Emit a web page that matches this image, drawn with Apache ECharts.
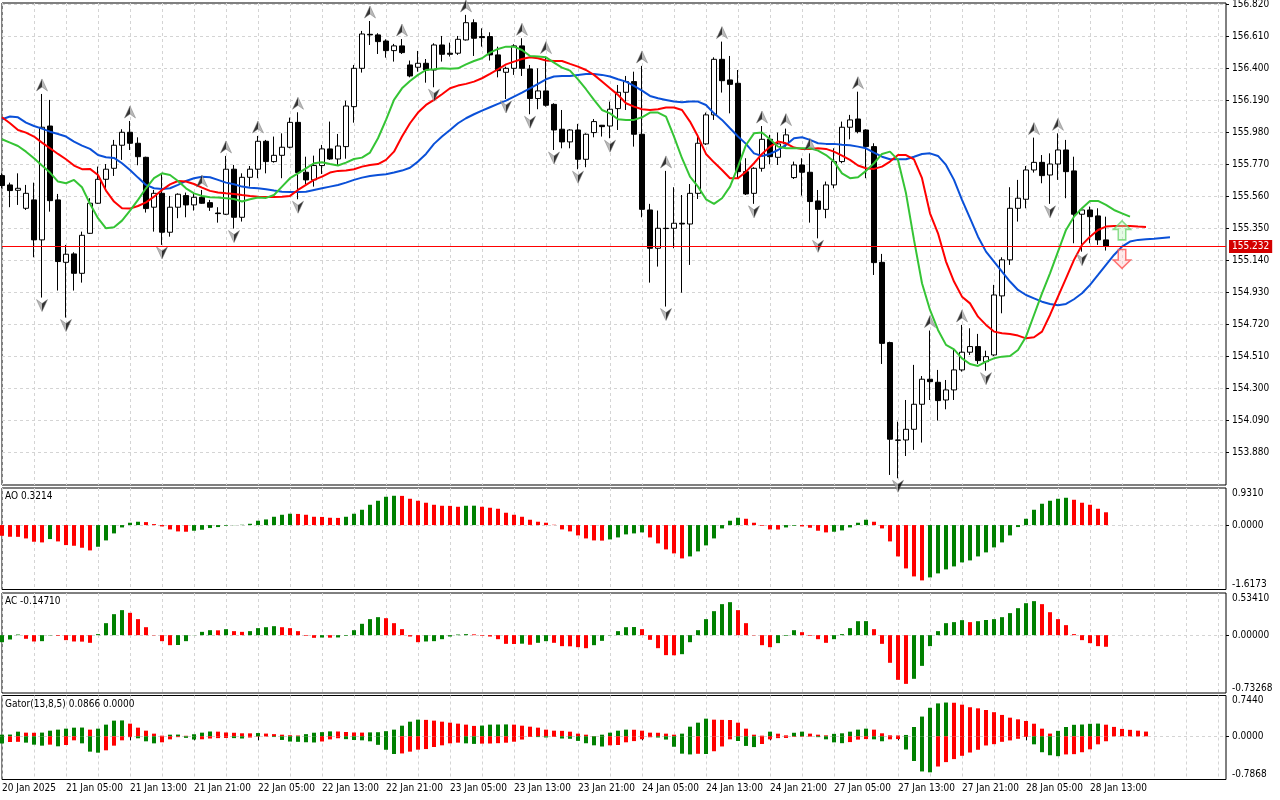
<!DOCTYPE html>
<html>
<head>
<meta charset="utf-8">
<script src="https://cdn.jsdelivr.net/npm/echarts@6/dist/echarts.min.js"></script>
<style>
  html, body { margin: 0; padding: 0; background: #fff; }
  #chart { width: 1280px; height: 800px; }
</style>
</head>
<body>
<div id="chart"></div>
<script>
// H1 candles, [open, close, low, high]
const candles = [
  [155.695,155.630,155.612,155.710],[155.634,155.597,155.488,155.649],[155.599,155.612,155.503,155.710],[155.481,155.579,155.470,155.634],
  [155.536,155.274,155.160,155.649],[155.274,156.012,154.896,156.230],[156.020,155.531,155.459,156.191],[155.536,155.132,154.942,155.575],
  [155.127,155.180,154.765,155.241],[155.182,155.055,154.942,155.193],[155.055,155.304,154.994,155.328],[155.317,155.514,155.313,155.547],
  [155.514,155.671,155.510,155.754],[155.671,155.737,155.601,155.771],[155.743,155.894,155.693,155.929],[155.894,155.979,155.798,155.999],
  [155.979,155.907,155.863,156.053],[155.907,155.819,155.763,155.946],[155.815,155.479,155.453,155.819],[155.488,155.579,155.328,155.601],
  [155.579,155.324,155.241,155.710],[155.324,155.488,155.295,155.562],[155.488,155.573,155.416,155.579],[155.564,155.503,155.422,155.584],
  [155.503,155.553,155.466,155.579],[155.553,155.514,155.510,155.601],[155.518,155.488,155.464,155.536],[155.450,155.446,155.387,155.488],
  [155.442,155.737,155.437,155.824],[155.737,155.422,155.348,155.765],[155.422,155.684,155.394,155.710],[155.684,155.737,155.623,155.758],
  [155.737,155.920,155.678,155.955],[155.920,155.787,155.710,155.929],[155.787,155.828,155.780,155.951],[155.828,155.881,155.678,155.972],
  [155.881,156.044,155.874,156.075],[156.044,155.715,155.540,156.110],[155.717,155.667,155.640,155.819],[155.667,155.761,155.623,155.826],
  [155.761,155.870,155.706,155.896],[155.870,155.804,155.798,156.049],[155.804,155.889,155.761,155.968],[155.885,156.151,155.806,156.186],
  [156.147,156.398,156.042,156.420],[156.398,156.623,156.370,156.643],[156.621,156.617,156.551,156.708],[156.617,156.573,156.492,156.628],
  [156.577,156.514,156.468,156.588],[156.514,156.545,156.442,156.558],[156.545,156.501,156.492,156.590],[156.420,156.348,156.339,156.449],
  [156.405,156.431,156.376,156.512],[156.431,156.387,156.304,156.459],[156.387,156.551,156.274,156.562],[156.551,156.490,156.442,156.610],
  [156.497,156.490,156.475,156.566],[156.497,156.588,156.486,156.610],[156.584,156.697,156.580,156.748],[156.697,156.595,156.479,156.719],
  [156.606,156.599,156.540,156.660],[156.606,156.486,156.449,156.634],[156.486,156.383,156.339,156.540],[156.372,156.398,156.197,156.409],
  [156.398,156.545,156.355,156.556],[156.545,156.398,156.348,156.595],[156.394,156.200,156.097,156.420],[156.200,156.250,156.130,156.398],
  [156.250,156.156,156.147,156.475],[156.162,155.994,155.863,156.169],[155.999,155.916,155.874,156.125],[155.916,155.994,155.874,155.999],
  [155.994,155.802,155.737,156.034],[155.802,155.966,155.750,155.972],[155.977,156.049,155.946,156.066],[156.025,156.016,155.951,156.027],
  [156.020,156.130,155.940,156.180],[156.134,156.241,155.994,156.289],[156.241,156.311,156.125,156.348],[156.311,155.966,155.885,156.376],
  [155.966,155.474,155.422,156.414],[155.470,155.219,154.994,155.510],[155.219,155.350,155.099,155.466],[155.350,155.348,154.837,155.726],
  [155.350,155.383,155.219,155.619],[155.383,155.378,154.928,155.568],[155.378,155.579,155.110,155.640],[155.579,155.907,155.542,155.962],
  [155.903,156.093,155.896,156.108],[156.093,156.457,156.060,156.470],[156.457,156.317,156.239,156.573],[156.322,156.293,156.103,156.479],
  [156.300,155.721,155.678,156.387],[155.721,155.575,155.568,155.809],[155.579,155.743,155.510,155.750],[155.743,155.933,155.721,156.020],
  [155.933,155.819,155.769,155.962],[155.815,155.903,155.765,155.977],[155.903,155.962,155.885,156.003],[155.682,155.765,155.673,155.787],
  [155.765,155.717,155.564,155.809],[155.717,155.525,155.387,155.841],[155.529,155.474,155.284,155.601],[155.474,155.634,155.416,155.656],
  [155.634,155.787,155.612,155.874],[155.787,156.012,155.776,156.049],[156.012,156.060,155.933,156.093],[156.066,155.983,155.972,156.245],
  [155.994,155.885,155.678,155.999],[155.885,155.125,155.044,155.907],[155.127,154.596,154.461,155.182],[154.601,153.968,153.734,154.607],
  [153.963,153.961,153.712,154.083],[153.963,154.033,153.858,154.225],[154.033,154.197,153.898,154.455],[154.197,154.361,153.946,154.382],
  [154.361,154.345,154.225,154.680],[154.341,154.221,154.090,154.422],[154.225,154.291,154.164,154.356],[154.291,154.422,154.225,154.553],
  [154.422,154.538,154.411,154.717],[154.538,154.575,154.520,154.695],[154.575,154.483,154.461,154.658],[154.476,154.509,154.417,154.548],
  [154.520,154.913,154.513,154.979],[154.907,155.143,154.793,155.160],[155.143,155.481,155.110,155.619],[155.481,155.547,155.394,155.667],
  [155.540,155.732,155.481,155.758],[155.732,155.782,155.715,155.944],[155.782,155.695,155.645,155.830],[155.699,155.771,155.510,155.841],
  [155.771,155.863,155.667,155.972],[155.863,155.721,155.547,155.929],[155.726,155.442,155.252,155.819],[155.442,155.470,155.197,155.481],
  [155.470,155.426,155.252,155.492],[155.431,155.274,155.241,155.481],[155.274,155.232,155.204,155.426]
];

// Alligator lines as drawn (already shifted forward 8 / 5 / 3 bars)
const jaw = [
  156.064,156.082,156.077,156.042,156.020,156.003,155.983,155.968,155.951,155.918,
  155.892,155.870,155.830,155.815,155.811,155.776,155.732,155.682,155.634,155.612,
  155.608,155.612,155.634,155.660,155.678,155.688,155.684,155.667,155.649,155.638,
  155.623,155.616,155.612,155.605,155.597,155.590,155.588,155.588,155.590,155.601,
  155.612,155.623,155.634,155.649,155.667,155.682,155.693,155.699,155.704,155.715,
  155.728,155.747,155.787,155.837,155.903,155.951,155.994,156.038,156.071,156.097,
  156.121,156.143,156.165,156.186,156.213,156.239,156.267,156.296,156.326,156.344,
  156.348,156.348,156.355,156.361,156.361,156.355,156.344,156.326,156.311,156.283,
  156.252,156.217,156.202,156.191,156.180,156.176,156.180,156.180,156.158,156.103,
  156.060,156.005,155.951,155.903,155.841,155.824,155.837,155.863,155.896,155.940,
  155.946,155.929,155.907,155.903,155.903,155.898,155.894,155.885,155.874,155.846,
  155.819,155.802,155.802,155.802,155.819,155.837,155.841,155.824,155.765,155.667,
  155.536,155.416,155.295,155.197,155.132,155.066,155.001,154.946,154.913,154.891,
  154.869,154.854,154.845,154.854,154.885,154.924,154.979,155.044,155.110,155.175,
  155.230,155.263,155.274,155.278,155.282,155.287,155.291
];
const teeth = [
  156.077,156.038,155.994,155.977,155.951,155.911,155.874,155.837,155.802,155.761,
  155.737,155.739,155.699,155.597,155.525,155.481,155.479,155.496,155.520,155.557,
  155.601,155.638,155.660,155.656,155.640,155.616,155.595,155.584,155.579,155.575,
  155.568,155.562,155.557,155.555,155.555,155.557,155.562,155.601,155.634,155.667,
  155.688,155.715,155.726,155.728,155.737,155.754,155.765,155.771,155.798,155.852,
  155.951,156.038,156.108,156.158,156.191,156.228,156.267,156.285,156.296,156.311,
  156.333,156.361,156.392,156.424,156.442,156.459,156.470,156.464,156.449,156.446,
  156.446,156.427,156.409,156.387,156.355,156.311,156.267,156.224,156.169,156.147,
  156.130,156.125,156.130,156.141,156.141,156.125,156.049,155.951,155.837,155.782,
  155.732,155.678,155.678,155.721,155.776,155.837,155.885,155.918,155.907,155.879,
  155.870,155.870,155.874,155.870,155.852,155.826,155.798,155.761,155.743,155.739,
  155.754,155.787,155.830,155.830,155.802,155.678,155.448,155.317,155.132,155.001,
  154.902,154.858,154.771,154.717,154.673,154.662,154.658,154.647,154.629,154.636,
  154.673,154.782,154.902,155.022,155.143,155.241,155.295,155.339,155.361,155.365,
  155.365,155.365,155.361,155.359
];
const lips = [
  155.933,155.911,155.889,155.852,155.809,155.761,155.715,155.656,155.645,155.667,
  155.619,155.510,155.416,155.350,155.357,155.400,155.466,155.536,155.612,155.678,
  155.710,155.699,155.660,155.612,155.579,155.562,155.553,155.551,155.547,155.542,
  155.525,155.540,155.551,155.549,155.568,155.623,155.678,155.710,155.743,155.776,
  155.782,155.771,155.761,155.780,155.804,155.813,155.846,155.940,156.060,156.191,
  156.267,156.315,156.355,156.387,156.392,156.398,156.396,156.398,156.424,156.446,
  156.464,156.501,156.525,156.540,156.540,156.518,156.479,156.475,156.470,156.435,
  156.403,156.383,156.326,156.261,156.191,156.125,156.103,156.064,156.060,156.060,
  156.077,156.108,156.108,156.082,155.951,155.809,155.688,155.623,155.540,155.510,
  155.547,155.623,155.754,155.896,155.972,155.977,155.933,155.885,155.874,155.874,
  155.874,155.874,155.859,155.830,155.787,155.710,155.678,155.684,155.726,155.776,
  155.837,155.852,155.798,155.579,155.274,154.990,154.815,154.684,154.586,154.557,
  154.498,154.461,154.448,154.476,154.498,154.509,154.513,154.553,154.640,154.782,
  154.924,155.055,155.197,155.339,155.426,155.481,155.529,155.529,155.503,155.470,
  155.448,155.426
];

// bars carrying a fractal
const fractalUp = [5, 16, 25, 28, 32, 37, 46, 50, 58, 65, 68, 80, 83, 90, 95, 98, 101, 107, 116, 120, 129, 132];
const fractalDown = [5, 8, 20, 29, 37, 54, 63, 66, 69, 72, 76, 83, 94, 102, 112, 123, 131, 135];
const signalUp = [[140, 155.336]];
const signalDown = [[140, 155.149]];
const lastPrice = 155.232;

const ao = [
  -0.268,-0.293,-0.295,-0.335,-0.418,-0.435,-0.351,-0.410,-0.502,-0.519,
  -0.569,-0.636,-0.544,-0.385,-0.209,-0.059,0.059,0.084,0.075,0.025,
  -0.033,-0.109,-0.159,-0.167,-0.142,-0.117,-0.075,-0.050,-0.017,-0.004,
  0.008,0.033,0.109,0.142,0.209,0.259,0.285,0.280,0.259,0.209,
  0.205,0.184,0.180,0.209,0.285,0.385,0.510,0.611,0.711,0.736,
  0.733,0.661,0.611,0.561,0.510,0.485,0.482,0.460,0.485,0.487,
  0.460,0.435,0.410,0.310,0.259,0.209,0.134,0.084,0.059,0.008,
  -0.109,-0.159,-0.259,-0.335,-0.385,-0.390,-0.360,-0.310,-0.234,-0.209,
  -0.184,-0.310,-0.460,-0.611,-0.711,-0.837,-0.787,-0.661,-0.510,-0.335,
  -0.084,0.109,0.184,0.159,0.059,-0.017,-0.109,-0.112,-0.059,-0.017,
  -0.033,-0.067,-0.142,-0.184,-0.167,-0.134,-0.059,0.059,0.134,0.084,
  -0.084,-0.410,-0.787,-1.088,-1.289,-1.389,-1.314,-1.213,-1.113,-1.038,
  -0.937,-0.887,-0.787,-0.686,-0.561,-0.435,-0.259,-0.050,0.159,0.385,
  0.536,0.611,0.661,0.686,0.636,0.561,0.510,0.410,0.3214
];
const ac = [
  -0.089,-0.055,0.008,-0.046,-0.080,-0.076,-0.004,-0.008,-0.063,-0.080,
  -0.082,-0.097,0.013,0.152,0.266,0.317,0.283,0.203,0.101,-0.004,
  -0.076,-0.127,-0.125,-0.076,0.002,0.042,0.063,0.061,0.076,0.051,
  0.042,0.051,0.089,0.101,0.114,0.101,0.089,0.051,-0.008,-0.034,
  -0.030,-0.032,-0.029,-0.008,0.063,0.144,0.203,0.228,0.215,0.152,
  0.076,-0.017,-0.089,-0.080,-0.076,-0.051,-0.017,0.008,0.013,0.010,
  -0.008,-0.017,-0.051,-0.110,-0.112,-0.108,-0.122,-0.097,-0.076,-0.097,
  -0.139,-0.141,-0.152,-0.165,-0.127,-0.072,-0.004,0.051,0.101,0.103,
  0.076,-0.059,-0.165,-0.253,-0.255,-0.241,-0.089,0.063,0.203,0.304,
  0.393,0.418,0.317,0.152,-0.004,-0.127,-0.152,-0.101,-0.008,0.063,
  0.038,-0.008,-0.051,-0.097,-0.051,0.013,0.089,0.177,0.178,0.076,
  -0.110,-0.350,-0.566,-0.617,-0.553,-0.389,-0.139,0.051,0.152,0.165,
  0.190,0.165,0.177,0.192,0.203,0.228,0.279,0.342,0.405,0.431,
  0.393,0.291,0.203,0.127,0.013,-0.063,-0.101,-0.139,-0.1471
];
// Gator: upper |jaw-teeth|, lower |teeth-lips| (drawn below zero)
const gatorUp = [
  0.030,0.032,0.085,0.067,0.065,0.068,0.103,0.122,0.140,0.158,
  0.160,0.122,0.140,0.213,0.286,0.290,0.231,0.158,0.103,0.049,
  0.012,0.030,0.032,0.010,0.038,0.067,0.088,0.085,0.070,0.065,
  0.055,0.054,0.060,0.050,0.040,0.030,0.020,0.015,0.040,0.066,
  0.076,0.090,0.088,0.079,0.070,0.068,0.072,0.075,0.094,0.122,
  0.194,0.267,0.304,0.300,0.286,0.267,0.249,0.231,0.213,0.190,
  0.196,0.213,0.215,0.217,0.213,0.194,0.176,0.158,0.122,0.103,
  0.100,0.085,0.049,0.030,0.006,0.030,0.067,0.103,0.122,0.120,
  0.103,0.067,0.065,0.049,0.030,0.049,0.176,0.249,0.322,0.304,
  0.300,0.298,0.249,0.140,0.030,0.012,0.085,0.048,0.018,0.065,
  0.085,0.049,0.030,0.018,0.045,0.055,0.085,0.122,0.140,0.122,
  0.055,0.018,0.016,0.025,0.170,0.360,0.520,0.600,0.616,0.612,
  0.577,0.530,0.510,0.480,0.440,0.390,0.340,0.310,0.280,0.230,
  0.140,0.050,0.100,0.170,0.210,0.215,0.228,0.232,0.212,0.172,
  0.135,0.118,0.103,0.0866
];
const gatorDown = [
  0.130,0.103,0.100,0.115,0.152,0.170,0.152,0.182,0.158,0.073,
  0.128,0.279,0.298,0.255,0.170,0.073,0.015,0.036,0.091,0.128,
  0.109,0.055,0.015,0.028,0.058,0.054,0.040,0.033,0.030,0.033,
  0.040,0.022,0.006,0.004,0.013,0.066,0.095,0.100,0.108,0.112,
  0.094,0.056,0.035,0.052,0.067,0.073,0.091,0.155,0.245,0.322,
  0.312,0.279,0.243,0.232,0.195,0.164,0.128,0.115,0.128,0.138,
  0.133,0.131,0.125,0.116,0.098,0.059,0.012,0.014,0.021,0.011,
  0.040,0.045,0.083,0.126,0.164,0.186,0.164,0.158,0.109,0.087,
  0.053,0.017,0.022,0.059,0.190,0.316,0.330,0.318,0.322,0.272,
  0.185,0.055,0.085,0.175,0.196,0.140,0.055,0.033,0.030,0.010,
  0.008,0.006,0.015,0.055,0.110,0.125,0.105,0.060,0.050,0.055,
  0.090,0.055,0.050,0.240,0.450,0.640,0.656,0.550,0.470,0.415,
  0.355,0.295,0.245,0.167,0.143,0.100,0.075,0.045,0.012,0.146,
  0.290,0.345,0.362,0.330,0.325,0.290,0.237,0.146,0.090
];

// time scale: one label every 8 bars
const timeLabels = ['20 Jan 2025','21 Jan 05:00','21 Jan 13:00','21 Jan 21:00','22 Jan 05:00','22 Jan 13:00',
  '22 Jan 21:00','23 Jan 05:00','23 Jan 13:00','23 Jan 21:00','24 Jan 05:00','24 Jan 13:00',
  '24 Jan 21:00','27 Jan 05:00','27 Jan 13:00','27 Jan 21:00','28 Jan 05:00','28 Jan 13:00'];
const priceLevels = [156.820,156.610,156.400,156.190,155.980,155.770,155.560,155.350,155.140,154.930,154.720,154.510,154.300,154.090,153.880];
const aoScale = ['0.9310', '0.0000', '-1.6173'];
const acScale = ['0.53410', '0.00000', '-0.73268'];
const gatorScale = ['0.7440', '0.0000', '-0.7868'];

const SLOTS = 154;
const GREEN = '#008000', RED = '#ff0000';
const FONT = '"DejaVu Sans Condensed", "DejaVu Sans", sans-serif';
const cats = Array.from({ length: SLOTS }, (_, i) => String(i));

function colored(values, firstColor, flip) {
  return values.map((v, i) => ({
    value: flip ? -v : v,
    itemStyle: { color: i === 0 ? firstColor : (v > values[i - 1] ? GREEN : RED) }
  }));
}

const grids = [
  { left: 2, width: 1224, top: 3, height: 482 },
  { left: 2, width: 1224, top: 488, height: 101.5 },
  { left: 2, width: 1224, top: 593, height: 100 },
  { left: 2, width: 1224, top: 695.5, height: 84 }
].map(g => Object.assign(g, { show: true, borderColor: '#000', borderWidth: 1, backgroundColor: '#fff', outerBoundsMode: 'none' }));

const gridLine = { show: true, lineStyle: { color: '#d4d4d4', type: [3, 3], width: 1 } };
const labelIdx = i => i % 8 === 0 && i / 8 < timeLabels.length;

const xAxes = grids.map((g, k) => ({
  type: 'category', gridIndex: k, data: cats, boundaryGap: false,
  axisLine: { show: false },
  axisTick: k === 3 ? { show: true, interval: labelIdx, length: 4, lineStyle: { color: '#000' } } : { show: false },
  axisLabel: k === 3 ? {
    show: true, interval: labelIdx, align: 'left', margin: 4,
    formatter: (v, i) => timeLabels[i / 8] || '',
    color: '#000', fontSize: 10, fontFamily: FONT
  } : { show: false },
  splitLine: Object.assign({ interval: 3 }, gridLine)
}));

function paneAxis(k, min, max, texts, heightPx) {
  const inset = 5 * (max - min) / heightPx;
  return {
    type: 'value', gridIndex: k, position: 'right', min: min, max: max,
    axisLine: { show: false },
    axisTick: { show: true, length: 3, customValues: [0], lineStyle: { color: '#000' } },
    axisLabel: {
      customValues: [max - inset, 0, min + inset],
      formatter: v => v > 1e-9 ? texts[0] : (v < -1e-9 ? texts[2] : texts[1]),
      color: '#000', fontSize: 10, fontFamily: FONT, margin: 6
    },
    splitLine: gridLine
  };
}

const yAxes = [
  {
    type: 'value', gridIndex: 0, position: 'right', min: 153.668, max: 156.826,
    axisLine: { show: false },
    axisTick: { show: true, length: 3, customValues: priceLevels, lineStyle: { color: '#000' } },
    axisLabel: { customValues: priceLevels, formatter: v => v.toFixed(3), color: '#000', fontSize: 10, fontFamily: FONT, margin: 6 },
    splitLine: gridLine
  },
  paneAxis(1, -1.6173, 0.931, aoScale, 101.5),
  paneAxis(2, -0.73268, 0.5341, acScale, 100),
  paneAxis(3, -0.7868, 0.744, gatorScale, 84)
];

// fractal arrowheads: one dark half, one light half
const upFill = new echarts.graphic.LinearGradient(0, 0, 1, 0, [
  { offset: 0, color: '#000' }, { offset: 0.5, color: '#000' },
  { offset: 0.5, color: '#a8a8a8' }, { offset: 1, color: '#a8a8a8' }
]);
const downFill = new echarts.graphic.LinearGradient(0, 0, 1, 0, [
  { offset: 0, color: '#a8a8a8' }, { offset: 0.5, color: '#a8a8a8' },
  { offset: 0.5, color: '#000' }, { offset: 1, color: '#000' }
]);

const alligator = (name, data, color) => ({
  name: name, type: 'line', xAxisIndex: 0, yAxisIndex: 0, data: data,
  showSymbol: false, symbol: 'none', z: 3,
  lineStyle: { color: color, width: 2 }
});

const paneTitle = (text, top) => ({
  text: text, left: 5, top: top, padding: 0,
  textStyle: { fontSize: 10, fontWeight: 'normal', color: '#000', fontFamily: FONT }
});

const chart = echarts.init(document.getElementById('chart'), null, { renderer: 'canvas' });
chart.setOption({
  animation: false,
  backgroundColor: '#fff',
  title: [
    paneTitle('AO 0.3214', 491),
    paneTitle('AC -0.14710', 596),
    paneTitle('Gator(13,8,5) 0.0866 0.0000', 699)
  ],
  grid: grids,
  xAxis: xAxes,
  yAxis: yAxes,
  series: [
    {
      name: 'USDJPY,H1', type: 'candlestick', xAxisIndex: 0, yAxisIndex: 0, data: candles,
      barWidth: 5, z: 2,
      itemStyle: { color: '#fff', color0: '#000', borderColor: '#000', borderColor0: '#000', borderWidth: 1 },
      markLine: {
        silent: true, symbol: ['none', 'none'], animation: false,
        data: [{ yAxis: lastPrice }],
        lineStyle: { color: '#ff0000', width: 1, type: 'solid' },
        label: {
          position: 'end', formatter: lastPrice.toFixed(3), distance: 3,
          color: '#fff', backgroundColor: '#d40000', padding: [2, 3, 1, 3],
          fontSize: 10, fontFamily: FONT
        }
      }
    },
    alligator('Jaw', jaw, '#0a50d8'),
    alligator('Teeth', teeth, '#ff0000'),
    alligator('Lips', lips, '#35c435'),
    {
      name: 'Fractal up', type: 'scatter', xAxisIndex: 0, yAxisIndex: 0, z: 4,
      data: fractalUp.map(i => [i, candles[i][3]]),
      symbol: 'path://M5,0 L10,12 L5,8 L0,12 Z', symbolSize: [11, 12], symbolOffset: [0, -9],
      itemStyle: { color: upFill, borderColor: '#777', borderWidth: 0.6 }
    },
    {
      name: 'Fractal down', type: 'scatter', xAxisIndex: 0, yAxisIndex: 0, z: 4,
      data: fractalDown.map(i => [i, candles[i][2]]),
      symbol: 'path://M0,0 L5,4 L10,0 L5,12 Z', symbolSize: [11, 12], symbolOffset: [0, 8],
      itemStyle: { color: downFill, borderColor: '#777', borderWidth: 0.6 }
    },
    {
      name: 'Signal up', type: 'scatter', xAxisIndex: 0, yAxisIndex: 0, z: 5, data: signalUp,
      symbol: 'path://M9,0 L18,8 L13,8 L13,18 L5,18 L5,8 L0,8 Z', symbolSize: [17, 19],
      itemStyle: { color: 'rgba(190,245,190,0.5)', borderColor: '#6cd46c', borderWidth: 1.5 }
    },
    {
      name: 'Signal down', type: 'scatter', xAxisIndex: 0, yAxisIndex: 0, z: 5, data: signalDown,
      symbol: 'path://M5,0 L13,0 L13,10 L18,10 L9,18 L0,10 L5,10 Z', symbolSize: [17, 19],
      itemStyle: { color: 'rgba(255,200,200,0.5)', borderColor: '#ff5050', borderWidth: 1.5 }
    },
    {
      name: 'AO', type: 'bar', xAxisIndex: 1, yAxisIndex: 1, barWidth: 4,
      data: colored(ao, RED, false)
    },
    {
      name: 'AC', type: 'bar', xAxisIndex: 2, yAxisIndex: 2, barWidth: 4,
      data: colored(ac, GREEN, false)
    },
    {
      name: 'Gator up', type: 'bar', xAxisIndex: 3, yAxisIndex: 3, barWidth: 4, barGap: '-100%',
      data: colored(gatorUp, GREEN, false)
    },
    {
      name: 'Gator down', type: 'bar', xAxisIndex: 3, yAxisIndex: 3, barWidth: 4, barGap: '-100%',
      data: colored(gatorDown, GREEN, true)
    }
  ]
});
</script>
</body>
</html>
